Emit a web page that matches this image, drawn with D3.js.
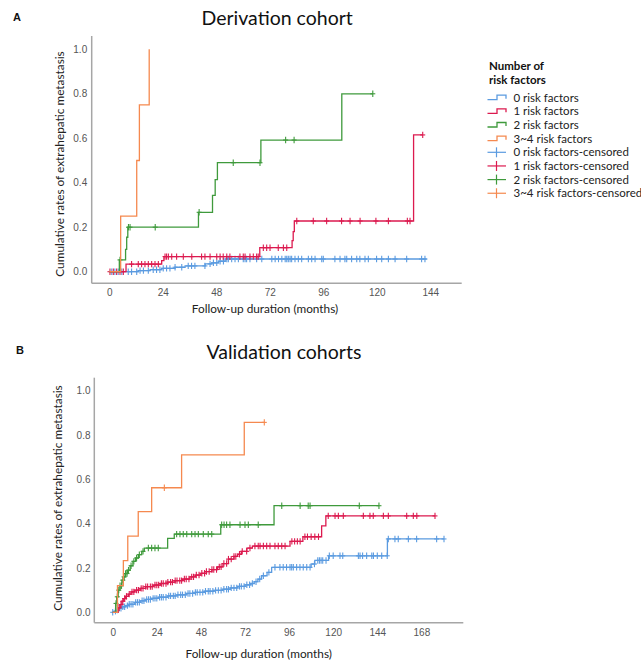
<!DOCTYPE html>
<html><head><meta charset="utf-8">
<script src="https://cdn.jsdelivr.net/npm/d3@7"></script>
<style>
body{margin:0;background:#fff;}
svg{display:block;}
</style></head>
<body>
<svg id="chart" width="641" height="660"></svg>
<script>
// ---------- DATA ----------
const groups = ["0 risk factors","1 risk factors","2 risk factors","3~4 risk factors"];
const colors = ["#5b9be0","#dc1a4f","#3f9a3c","#f5894f"];
const xTicksA = [0,24,48,72,96,120,144];
const xTicksB = [0,24,48,72,96,120,144,168];
const yTicks = [0,0.2,0.4,0.6,0.8,1.0];

// Panel A (Derivation cohort): step times (months) and cumulative rates
const aT0 = [0,13,18.3,23.5,29.5,34,43,46,49,52];
const aV0 = [0,0.005,0.009,0.015,0.02,0.026,0.035,0.04,0.047,0.057];
const aEnd0 = 142.4;
const aT1 = [0,7.5,23.5,24.5,67.5,82,82.5,83,136.5];
const aV1 = [0,0.034,0.05,0.068,0.108,0.14,0.18,0.228,0.615];
const aEnd1 = 140.6;
const aT2 = [0,4.5,7.3,7.8,8.3,40,46.3,47.5,48.5,68,104.3];
const aV2 = [0,0.053,0.1,0.155,0.2,0.267,0.343,0.414,0.49,0.592,0.8];
const aEnd2 = 118.2;
const aT3 = [0,5.1,12.3,13.5,17.9];
const aV3 = [0,0.25,0.5,0.75,1.0];
const aEnd3 = 17.9;
// censored times, panel A
const aC0 = [1.1,2.5,4,5.6,8.5,10,12.3,13.8,15.3,17.5,19.7,21.2,22.7,24.2,25.7,27.2,29.5,32.5,35.4,36.9,38.4,42.9,45.2,46.7,48.2,49.7,51.2,52.7,53.4,54.9,56.4,57.9,60.1,60.9,61.6,63.1,66.1,68.4,72.9,74.4,75.9,77.4,78.9,79.6,80.3,81.1,81.8,83.3,84.8,86.3,89.3,90.8,92.3,95.3,96,101.2,103.5,105.7,106.5,108.7,111,112.4,114.7,116.2,119.9,122.2,125.2,128.2,133.4,140.1,141.6];
const aC1 = [0.3,1.8,3.3,4.8,6.3,10,13,14.5,16,17.5,19,20.5,22,25,25.7,26.5,28,30.2,33.2,37,41.4,42.9,45.2,48.2,49.7,51.1,52.7,54.1,58.6,60.1,60.9,63.1,64.6,66.1,66.8,69.1,70.6,72.1,75.8,78.1,79.6,84.1,91.5,97.5,104.2,108,112.5,119.6,125.2,133.7,134.9,140.6];
const aC2 = [4.8,8.6,9.3,20.6,40.3,55.6,67.6,79.1,82.9,118.2];
const aC3 = [];

// Panel B (Validation cohorts)
const bT0 = [0,1,2,3,5,7,9,12,15,18,21,25,30,35,40,45,50,55,60,64,68,72,75,77,79,81,84,86.5,108,110,117.5,149.5];
const bV0 = [0,0.005,0.01,0.018,0.025,0.03,0.036,0.045,0.052,0.058,0.063,0.068,0.074,0.079,0.085,0.09,0.095,0.099,0.104,0.11,0.117,0.124,0.13,0.138,0.15,0.165,0.18,0.203,0.218,0.234,0.255,0.331];
const bEnd0 = 180.3;
const bT1 = [0,3,4,5,6,7,8.5,10,12,15,18,22,26,30,34,38,42,45,48,51,54,57,60,63,66,68,70,73,76,96.5,103.5,113.7,116];
const bV1 = [0,0.02,0.035,0.05,0.062,0.072,0.082,0.092,0.1,0.108,0.116,0.123,0.13,0.136,0.143,0.15,0.16,0.168,0.176,0.184,0.193,0.205,0.22,0.24,0.252,0.262,0.275,0.29,0.299,0.32,0.341,0.39,0.435];
const bEnd1 = 175.4;
const bT2 = [0,1.6,2.2,3,4,5,6,7,8,9.5,11,12.5,14,15.8,17.2,29.9,33.5,58.8,87.8];
const bV2 = [0,0.04,0.07,0.1,0.12,0.145,0.16,0.175,0.19,0.21,0.23,0.245,0.26,0.275,0.29,0.334,0.353,0.395,0.481];
const bEnd2 = 144.9;
const bT3 = [0,2.6,5.8,8.2,13.9,21.2,37.5,71.6];
const bV3 = [0,0.12,0.233,0.344,0.454,0.562,0.71,0.857];
const bEnd3 = 82.5;
// censored times, panel B
const bC0 = [0,1.5,2.5,3.5,4.5,5.5,6.5,8,9,10,11,12.5,13.5,14.5,16,17,18.5,19.5,20.5,22,23,24,25.5,26.5,27.5,29,30.5,31.5,33,34,35.5,37,38,39.5,41,42,43.5,45,46,47.5,49,50.5,52,53,54.5,56,57.5,59,60.5,62,63,64.5,66,67.5,69,70,71.5,73,74.5,76,78,80,82,85,88.3,91,92.8,94.6,96.5,97.4,98.3,100.1,101.9,103.7,105.6,107.4,109.8,111.6,112.5,113.4,114.3,116.1,117.9,120,123.7,125.2,133.7,134.6,136,138.2,141,141.9,144,146.4,149.4,150,153.6,155.4,160.9,165.4,176.3,180.3];
const bC1 = [3.5,4.5,5.5,6.5,7.5,9,10.5,11.5,13,14,15.5,16.5,18,19,20.5,21.5,23,24,25,26.5,27.5,29,30,31.5,32.5,34,35,36.5,37.5,39,40,41.5,43,44,45.5,47,48.5,50,51,52.5,54,55,56.5,58,59,60.5,62,63,64.5,66,67,69,70.5,72.9,74.7,77.4,79.2,80.2,82,83.8,85.6,88.3,90.1,92,93.8,97.5,99,100.5,102,104.6,106,108,110,112,117.3,121,122.8,125.5,136.4,140,141.8,147.3,150,160,163.6,165.5,175.4];
const bC2 = [1.8,2.5,3.3,4,4.8,5.5,6.2,7,7.8,8.6,10,11.5,13,14.5,16.5,19.4,21.2,23,24.8,34.8,36.6,38.4,40.3,43,44.8,46.6,49.3,52,53.9,59.3,60.6,62,63.8,69.3,72,73.8,79.2,92,102,106.4,107.4,134.2,144.9];
const bC3 = [28.1,82.5];

// ---------- DRAW ----------
const svg = d3.select("#chart");
const txtFont = "Lato, 'Open Sans', sans-serif";
const tickFont = "'Liberation Sans', Arial, sans-serif";

function panel(cfg){
  const {x, y, T, V, E, C, axisY, axisX0, axisX1, axisTop, yPad, title, titleX, titleY, letter, letterX, letterY, xTicks, xlabX, xlabY, ylabX, ylabY} = cfg;
  const g = svg.append("g");
  g.append("line").attr("x1",axisX0).attr("x2",axisX0).attr("y1",axisTop).attr("y2",axisY)
    .attr("stroke","#a6a6a6").attr("stroke-width",1.5);
  g.append("line").attr("x1",axisX0).attr("x2",axisX1).attr("y1",axisY).attr("y2",axisY)
    .attr("stroke","#a6a6a6").attr("stroke-width",1.5);
  const xa = g.append("g").attr("transform",`translate(0,${axisY})`)
    .call(d3.axisBottom(x).tickValues(xTicks).tickSize(0).tickPadding(6).tickFormat(d3.format("d")));
  xa.select(".domain").remove();
  xa.selectAll("text").attr("font-family",tickFont).attr("font-size",10).attr("fill","#555");
  const ya = g.append("g").attr("transform",`translate(${axisX0},0)`)
    .call(d3.axisLeft(y).tickValues(yTicks).tickSize(0).tickPadding(yPad).tickFormat(d3.format(".1f")));
  ya.select(".domain").remove();
  ya.selectAll("text").attr("font-family",tickFont).attr("font-size",10).attr("fill","#555");

  const line = d3.line().x(d=>x(d[0])).y(d=>y(d[1])).curve(d3.curveStepAfter);
  for(let k=0;k<4;k++){
    const pts = T[k].map((t,i)=>[t,V[k][i]]);
    pts.push([E[k], V[k][V[k].length-1]]);
    g.append("path").attr("d",line(pts)).attr("fill","none")
      .attr("stroke",colors[k]).attr("stroke-width",1.3);
    const cg = g.append("g").attr("stroke",colors[k]).attr("stroke-width",1.1);
    C[k].forEach(t=>{
      const i = Math.max(0, d3.bisectRight(T[k], t)-1);
      const cx = x(t), cy = y(V[k][i]);
      cg.append("line").attr("x1",cx).attr("x2",cx).attr("y1",cy-3.2).attr("y2",cy+3.2);
      cg.append("line").attr("x1",cx-2.5).attr("x2",cx+2.5).attr("y1",cy).attr("y2",cy);
    });
  }
  svg.append("text").attr("x",titleX).attr("y",titleY).attr("font-family",txtFont)
    .attr("font-size",19.5).attr("fill","#111").text(title);
  svg.append("text").attr("x",letterX).attr("y",letterY).attr("font-family","'Liberation Sans', Arial, sans-serif")
    .attr("font-weight","bold").attr("font-size",11).attr("fill","#111").text(letter);
  svg.append("text").attr("x",xlabX).attr("y",xlabY).attr("text-anchor","middle").attr("font-family",txtFont)
    .attr("font-size",11.8).attr("fill","#222").text("Follow-up duration (months)");
  svg.append("text").attr("transform",`translate(${ylabX},${ylabY}) rotate(-90)`).attr("text-anchor","middle")
    .attr("font-family",txtFont).attr("font-size",11.8).attr("fill","#222")
    .text("Cumulative rates of extrahepatic metastasis");
}

panel({
  x: d3.scaleLinear().domain([0,144]).range([109.3,430.3]),
  y: d3.scaleLinear().domain([0,1]).range([271.7,49.3]),
  T:[aT0,aT1,aT2,aT3], V:[aV0,aV1,aV2,aV3], E:[aEnd0,aEnd1,aEnd2,aEnd3], C:[aC0,aC1,aC2,aC3],
  axisY:283.3, axisX0:91.7, axisX1:461.7, axisTop:36, yPad:4.5,
  title:"Derivation cohort", titleX:201.5, titleY:25,
  letter:"A", letterX:13, letterY:21, xTicks:xTicksA,
  xlabX:265, xlabY:313, ylabX:64, ylabY:164
});
panel({
  x: d3.scaleLinear().domain([0,168]).range([112.7,421.4]),
  y: d3.scaleLinear().domain([0,1]).range([612.3,390.7]),
  T:[bT0,bT1,bT2,bT3], V:[bV0,bV1,bV2,bV3], E:[bEnd0,bEnd1,bEnd2,bEnd3], C:[bC0,bC1,bC2,bC3],
  axisY:622.7, axisX0:94.3, axisX1:463.3, axisTop:377.7, yPad:3.8,
  title:"Validation cohorts", titleX:206.5, titleY:359,
  letter:"B", letterX:16, letterY:354, xTicks:xTicksB,
  xlabX:258.7, xlabY:658, ylabX:62, ylabY:498
});

// ---------- LEGEND ----------
const lg = svg.append("g");
lg.append("text").attr("x",489).attr("y",70).attr("font-family",txtFont).attr("font-weight","bold")
  .attr("font-size",11.5).attr("fill","#111").text("Number of");
lg.append("text").attr("x",489).attr("y",84).attr("font-family",txtFont).attr("font-weight","bold")
  .attr("font-size",11.5).attr("fill","#111").text("risk factors");
const legendItems = groups.map((g,i)=>({label:g, color:colors[i], censored:false}))
  .concat(groups.map((g,i)=>({label:g+"-censored", color:colors[i], censored:true})));
legendItems.forEach((d,i)=>{
  const cy = 97.7 + i*13.65;
  if(!d.censored){
    lg.append("path").attr("d",`M487.5,${cy+2} H497 V${cy-2.5} H506 V${cy+1}`)
      .attr("fill","none").attr("stroke",d.color).attr("stroke-width",1.3);
  } else {
    lg.append("line").attr("x1",487.5).attr("x2",506).attr("y1",cy).attr("y2",cy)
      .attr("stroke",d.color).attr("stroke-width",1.2);
    lg.append("line").attr("x1",496.5).attr("x2",496.5).attr("y1",cy-5).attr("y2",cy+5)
      .attr("stroke",d.color).attr("stroke-width",1.2);
  }
  lg.append("text").attr("x",513.5).attr("y",cy+4).attr("font-family",txtFont)
    .attr("font-size",11.5).attr("fill","#222").text(d.label);
});
</script>
</body></html>
